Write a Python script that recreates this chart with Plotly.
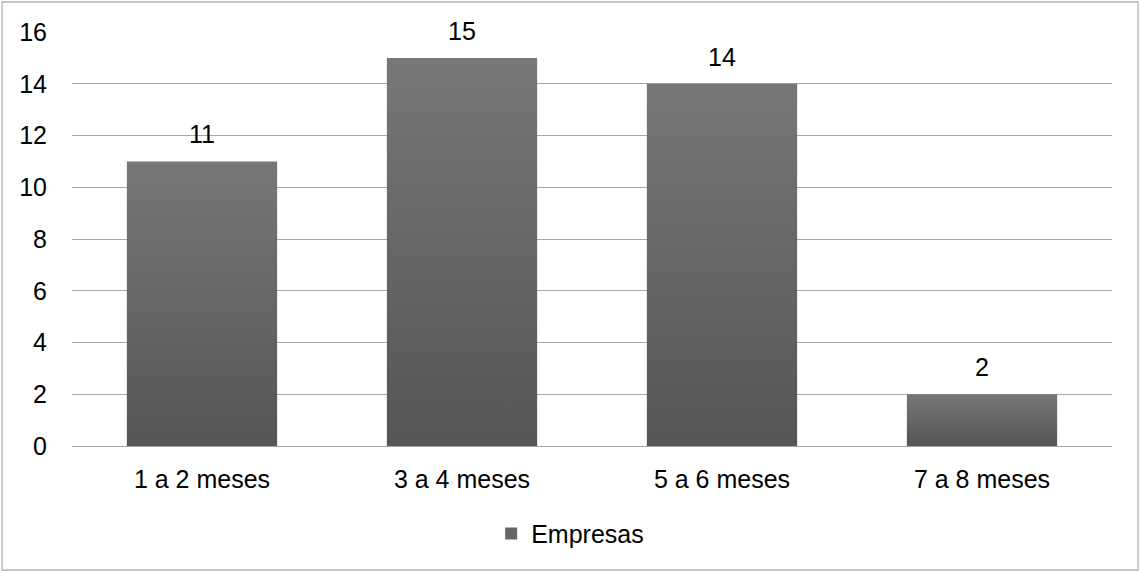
import plotly.graph_objects as go

# Chart data
categorias = ["1 a 2 meses", "3 a 4 meses", "5 a 6 meses", "7 a 8 meses"]
empresas = [11, 15, 14, 2]
y_ticks = [0, 2, 4, 6, 8, 10, 12, 14, 16]
serie_nome = "Empresas"

FONT = "Liberation Sans, Arial, sans-serif"
FS = 25
BAR_HALF = 0.289  # half of the bar width in category units

fig = go.Figure()

# Each bar is a filled polygon so it can carry its own vertical gradient
for i, (cat, val) in enumerate(zip(categorias, empresas)):
    x0, x1 = i - BAR_HALF, i + BAR_HALF
    fig.add_trace(go.Scatter(
        x=[x0, x1, x1, x0, x0],
        y=[0, 0, val, val, 0],
        mode="none",
        fill="toself",
        fillgradient=dict(type="vertical",
                          colorscale=[[0, "#555555"], [1, "#777777"]]),
        name=serie_nome,
        legendgroup=serie_nome,
        showlegend=False,
        hoverinfo="skip",
    ))

# Legend entry with a square swatch for the series
fig.add_trace(go.Bar(x=[None], y=[None], name=serie_nome,
                     legendgroup=serie_nome, showlegend=True,
                     marker=dict(color="#666666", line=dict(width=0))))

# Value labels above the bars
for i, val in enumerate(empresas):
    fig.add_annotation(x=i, y=val, text=str(val), showarrow=False,
                       yanchor="bottom", yshift=11,
                       font=dict(family=FONT, size=FS, color="#000000"))

L, R, T, B = 72, 29, 32, 125
W, H = 1141, 571
pw, ph = W - L - R, H - T - B

# Outer chart border
fig.add_shape(type="rect", xref="paper", yref="paper",
              x0=(2 - L) / pw, x1=(W - 3 - L) / pw,
              y0=(T + ph - 570) / ph,
              y1=(T + ph - 2) / ph,
              line=dict(color="#b4b4b4", width=1.3), fillcolor="rgba(0,0,0,0)",
              layer="below")

fig.update_layout(
    width=W, height=H,
    margin=dict(l=L, r=R, t=T, b=B),
    paper_bgcolor="white", plot_bgcolor="white",
    font=dict(family=FONT, size=FS, color="#000000"),
    showlegend=True,
    legend=dict(orientation="h", x=0.479, xanchor="center",
                y=-0.212, yanchor="middle",
                font=dict(family=FONT, size=FS, color="#000000"),
                itemwidth=30, bgcolor="rgba(0,0,0,0)"),
    xaxis=dict(range=[-0.5, len(categorias) - 0.5],
               tickmode="array", tickvals=list(range(len(categorias))),
               ticktext=categorias, showgrid=False, zeroline=False,
               showline=False, ticks="", ticklabelstandoff=16,
               fixedrange=True),
    yaxis=dict(range=[0, 16], tickmode="array", tickvals=y_ticks,
               showgrid=True, gridcolor="#a6a6a6", gridwidth=1.2,
               zeroline=True, zerolinecolor="#a6a6a6", zerolinewidth=1.2,
               showline=False, ticks="", ticklabelstandoff=24,
               fixedrange=True),
)

fig.write_html("out.html")
